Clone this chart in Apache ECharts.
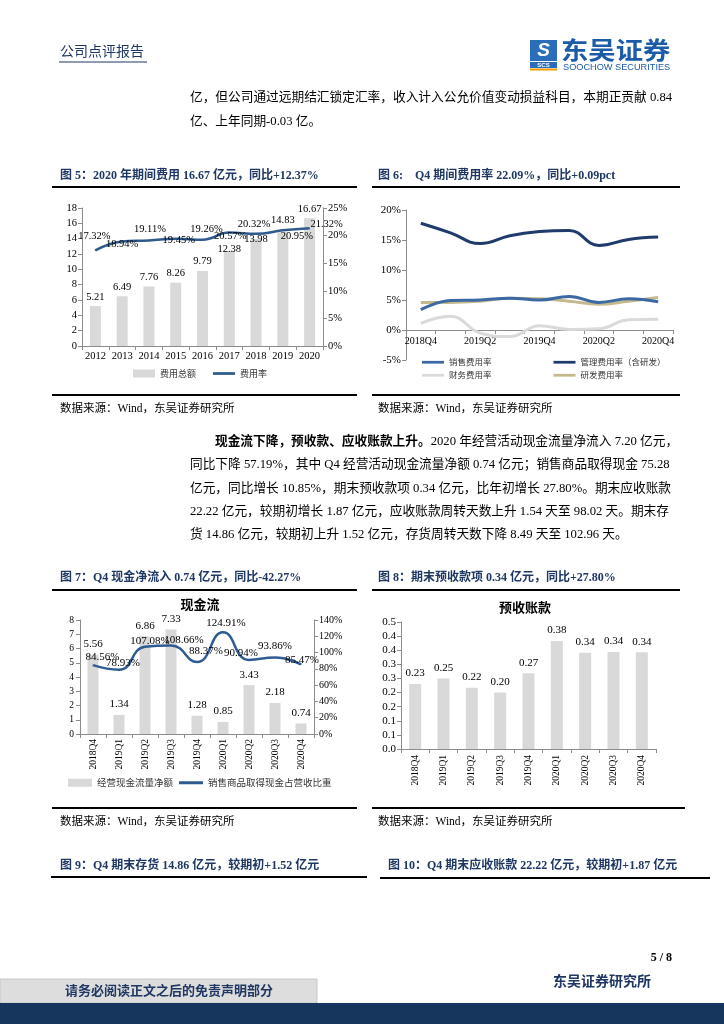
<!DOCTYPE html>
<html><head><meta charset="utf-8">
<script src="https://cdn.jsdelivr.net/npm/echarts@6/dist/echarts.min.js"></script>
<style>html,body{margin:0;padding:0;background:#fff}#c{width:724px;height:1024px}</style>
</head><body><div id="c"></div>
<script>
// ---------- data ----------
const fig5Years = ['2012','2013','2014','2015','2016','2017','2018','2019','2020'];
const fig5Expense = [5.21, 6.49, 7.76, 8.26, 9.79, 12.38, 13.98, 14.83, 16.67];
const fig5Rate = [17.32, 18.94, 19.11, 19.45, 19.26, 20.57, 20.32, 20.95, 21.32];

const quarters = ['2018Q4','2019Q1','2019Q2','2019Q3','2019Q4','2020Q1','2020Q2','2020Q3','2020Q4'];
const fig6Sales   = [3.4, 4.9, 5.0, 5.3, 5.0, 5.6, 4.6, 5.2, 4.7];
const fig6Admin   = [17.8, 16.2, 14.4, 15.7, 16.4, 16.6, 14.1, 15.1, 15.5];
const fig6Finance = [1.1, 2.3, -0.5, -1.1, 0.7, 0.1, 0.2, 1.7, 1.8];
const fig6RD      = [4.6, 4.6, 4.8, 5.3, 5.2, 4.8, 4.3, 4.8, 5.4];

const fig7Cash  = [5.56, 1.34, 6.86, 7.33, 1.28, 0.85, 3.43, 2.18, 0.74];
const fig7Ratio = [84.56, 78.93, 107.08, 108.66, 88.37, 124.91, 90.94, 93.86, 85.47];

const fig8Advance = [0.23, 0.25, 0.217, 0.20, 0.268, 0.383, 0.341, 0.344, 0.343];
const fig8YTicks = ['0.0','0.1','0.1','0.2','0.2','0.3','0.3','0.4','0.4','0.5'];

// ---------- label placement (styling, not data) ----------
const fig5BarLabelOffset = [[0,0],[0,0],[0,0],[0,0],[0,0],[0,7.5],[0,10],[0,-3],[0,0]];
const fig5RateLabelOffset = [[-1,-14],[0,2.5],[1,-11],[3,1.5],[4,-10.5],[1,3.5],[-2,-10],[14,6],[17,-4]];
const fig7RatioLabelOffset = [[9.5,-8],[4,-7],[5,-6],[13,-5],[9,-11],[3,-9],[-8,-7],[0,-11.6],[1,-4]];

const SERIF = "'Liberation Serif','Noto Sans CJK SC',serif";
const CJK = "'Noto Sans CJK SC','Liberation Serif',sans-serif";
const NAVY = '#1F3763';
const AX = '#8C8C8C';

const chart = echarts.init(document.getElementById('c'), null, {renderer: 'canvas', width: 724, height: 1024});

// ---------- page graphics ----------
const G = [];
function T(x, y, text, font, fill, align, extra) {
  const st = {text: text, font: font, fill: fill || '#000', textAlign: align || 'left', textVerticalAlign: 'middle', align: align || 'left', verticalAlign: 'middle'};
  const el = {type: 'text', x: x, y: y, silent: true, z: 100, style: st};
  if (extra && extra.rich) st.rich = extra.rich;
  if (extra && extra.scaleX) el.scaleX = extra.scaleX;
  G.push(el);
}
function L(x1, y1, x2, y2, c, w) { G.push({type: 'line', silent: true, z: 100, shape: {x1, y1, x2, y2}, style: {stroke: c, lineWidth: w}}); }
function R(x, y, w, h, fill, stroke) { G.push({type: 'rect', silent: true, z: 90, shape: {x, y, width: w, height: h}, style: {fill: fill, stroke: stroke || null, lineWidth: stroke ? 1 : 0}}); }

const BODY = "12.7px " + SERIF;
const TITLE = "bold 12px " + SERIF;
const SRC = "11.5px " + SERIF;

// header
T(60, 52, '公司点评报告', "14px " + SERIF, NAVY);
L(59, 62, 147, 62, NAVY, 1);
// logo
R(530, 40, 27, 21, '#2A6EBB');
T(543.5, 51, 'S', "bold italic 19px 'Liberation Sans',sans-serif", '#fff', 'center');
R(530, 62, 27, 6, '#2A6EBB');
T(543.5, 65, 'SCS', "bold 6px 'Liberation Sans',sans-serif", '#fff', 'center');
R(530, 68.5, 27, 2, '#F39800');
T(561, 50, '东吴证券', "bold 24px " + CJK, '#1C5BA8', 'left', {scaleX: 1.14});
T(563, 67, 'SOOCHOW SECURITIES', "9.2px 'Liberation Sans',sans-serif", '#1C5BA8');

// paragraph 1
T(190, 98, '亿，但公司通过远期结汇锁定汇率，收入计入公允价值变动损益科目，本期正贡献 0.84', BODY);
T(190, 122, '亿、上年同期-0.03 亿。', BODY);

// figure 5 / 6 frames
T(60, 176, '图 5：2020 年期间费用 16.67 亿元，同比+12.37%', TITLE, NAVY);
T(378, 176, '图 6:    Q4 期间费用率 22.09%，同比+0.09pct', TITLE, NAVY);
L(52, 187, 357, 187, '#000', 2);
L(372, 187, 680, 187, '#000', 2);
L(52, 395, 357, 395, '#000', 2);
L(372, 395, 680, 395, '#000', 2);
T(60, 409, '数据来源：Wind，东吴证券研究所', SRC);
T(378, 409, '数据来源：Wind，东吴证券研究所', SRC);

// paragraph 2
T(215, 442, '{b|现金流下降，预收款、应收账款上升。}2020 年经营活动现金流量净流入 7.20 亿元，', BODY, '#000', 'left',
  {rich: {b: {fontWeight: 'bold', fontSize: 12.7, fontFamily: SERIF}}});
T(190, 465, '同比下降 57.19%，其中 Q4 经营活动现金流量净额 0.74 亿元；销售商品取得现金 75.28', BODY);
T(190, 489, '亿元，同比增长 10.85%，期末预收款项 0.34 亿元，比年初增长 27.80%。期末应收账款', BODY);
T(190, 512, '22.22 亿元，较期初增长 1.87 亿元，应收账款周转天数上升 1.54 天至 98.02 天。期末存', BODY);
T(190, 535, '货 14.86 亿元，较期初上升 1.52 亿元，存货周转天数下降 8.49 天至 102.96 天。', BODY);

// figure 7 / 8 frames
T(60, 578, '图 7：Q4 现金净流入 0.74 亿元，同比-42.27%', TITLE, NAVY);
T(378, 578, '图 8：期末预收款项 0.34 亿元，同比+27.80%', TITLE, NAVY);
L(52, 590, 357, 590, '#000', 2);
L(372, 590, 680, 590, '#000', 2);
L(52, 808, 357, 808, '#000', 2);
L(372, 808, 685, 808, '#000', 2);
T(60, 822, '数据来源：Wind，东吴证券研究所', SRC);
T(378, 822, '数据来源：Wind，东吴证券研究所', SRC);

// figure 9 / 10 titles
T(60, 866, '图 9：Q4 期末存货 14.86 亿元，较期初+1.52 亿元', TITLE, NAVY);
T(388, 866, '图 10：Q4 期末应收账款 22.22 亿元，较期初+1.87 亿元', TITLE, NAVY);
L(51, 877, 367, 877, '#000', 2);
L(380, 878, 710, 878, '#000', 2);

// footer
T(672, 958, '5 / 8', "bold 12px " + SERIF, '#000', 'right');
T(553, 982, '东吴证券研究所', "bold 14px " + SERIF, NAVY);
R(0, 979, 317, 24, '#DDDDDD', '#C8C8C8');
T(65, 992, '请务必阅读正文之后的免责声明部分', "bold 13px " + SERIF, NAVY);
R(0, 1003, 724, 21, '#17365D');

// ---------- chart components ----------
function catAxis(grid, data, extra) {
  return Object.assign({
    type: 'category', gridIndex: grid, data: data,
    axisLine: {lineStyle: {color: AX}}, axisTick: {show: true, length: 4, lineStyle: {color: AX}},
    axisLabel: {color: '#000', fontFamily: SERIF, fontSize: 10.5, margin: 5, interval: 0}
  }, extra || {});
}
function valAxis(grid, extra) {
  return Object.assign({
    type: 'value', gridIndex: grid,
    axisLine: {show: true, lineStyle: {color: AX}}, axisTick: {show: true, length: 4, lineStyle: {color: AX}},
    splitLine: {show: false},
    axisLabel: {color: '#000', fontFamily: SERIF, fontSize: 10.5, margin: 5}
  }, extra || {});
}
const LINE_ICON = 'path://M0,0L24,0L24,3L0,3Z';

const option = {
  animation: false,
  backgroundColor: '#fff',
  textStyle: {fontFamily: SERIF},
  grid: [
    {left: 82, top: 208, width: 241, height: 138},
    {left: 406, top: 210, width: 267, height: 150},
    {left: 80, top: 620, width: 234, height: 114},
    {left: 401, top: 622, width: 255, height: 127}
  ],
  title: [
    {text: '现金流', left: 200, top: 598, textAlign: 'center', padding: 0,
     textStyle: {fontFamily: CJK, fontSize: 13, fontWeight: 'bold', color: '#000'}},
    {text: '预收账款', left: 525, top: 601, textAlign: 'center', padding: 0,
     textStyle: {fontFamily: CJK, fontSize: 13, fontWeight: 'bold', color: '#000'}}
  ],
  legend: [
    {left: 133, top: 369, padding: 0, itemWidth: 22, itemHeight: 8, itemGap: 17,
     textStyle: {fontFamily: CJK, fontSize: 9, color: '#333'},
     data: [{name: '费用总额', icon: 'rect'}, {name: '费用率', icon: LINE_ICON}]},
    {left: 422, top: 358, padding: 0, itemWidth: 22, itemHeight: 8, itemGap: 62,
     textStyle: {fontFamily: CJK, fontSize: 8.5, color: '#333'},
     data: [{name: '销售费用率', icon: LINE_ICON}, {name: '管理费用率（含研发）', icon: LINE_ICON}]},
    {left: 422, top: 371, padding: 0, itemWidth: 22, itemHeight: 8, itemGap: 62,
     textStyle: {fontFamily: CJK, fontSize: 8.5, color: '#333'},
     data: [{name: '财务费用率', icon: LINE_ICON}, {name: '研发费用率', icon: LINE_ICON}]},
    {left: 68, top: 778, padding: 0, itemWidth: 24, itemHeight: 8, itemGap: 6,
     textStyle: {fontFamily: CJK, fontSize: 9.5, color: '#333'},
     data: [{name: '经营现金流量净额', icon: 'rect'}, {name: '销售商品取得现金占营收比重', icon: LINE_ICON}]}
  ],
  xAxis: [
    catAxis(0, fig5Years),
    catAxis(1, quarters, {position: 'bottom', offset: -30,
                          axisLine: {onZero: false, lineStyle: {color: AX}},
                          axisLabel: {color: '#000', fontFamily: SERIF, fontSize: 10, margin: 6, interval: 1},
                          axisTick: {show: true, length: 4, interval: 0, lineStyle: {color: AX}}}),
    catAxis(2, quarters, {axisLabel: {color: '#000', fontFamily: SERIF, fontSize: 9.5, margin: 5, rotate: 90, interval: 0}}),
    catAxis(3, quarters, {axisLabel: {color: '#000', fontFamily: SERIF, fontSize: 9.5, margin: 6, rotate: 90, interval: 0}})
  ],
  yAxis: [
    valAxis(0, {min: 0, max: 18, interval: 2}),
    valAxis(0, {min: 0, max: 25, interval: 5, position: 'right',
                axisLabel: {color: '#000', fontFamily: SERIF, fontSize: 10.5, margin: 5, formatter: '{value}%'}}),
    valAxis(1, {min: -5, max: 20, interval: 5,
                axisLabel: {color: '#000', fontFamily: SERIF, fontSize: 11, margin: 5, formatter: '{value}%'}}),
    valAxis(2, {min: 0, max: 8, interval: 1, axisLabel: {color: '#000', fontFamily: SERIF, fontSize: 9.5, margin: 6}}),
    valAxis(2, {min: 0, max: 140, interval: 20, position: 'right',
                axisLabel: {color: '#000', fontFamily: SERIF, fontSize: 10, margin: 5, formatter: '{value}%'}}),
    valAxis(3, {min: 0, max: 0.45, interval: 0.05,
                axisLabel: {color: '#000', fontFamily: SERIF, fontSize: 11, margin: 5,
                  formatter: function (v, i) { return fig8YTicks[i] !== undefined ? fig8YTicks[i] : (Math.round(v * 10 + 1e-9) / 10).toFixed(1); }}})
  ],
  series: [
    {name: '费用总额', type: 'bar', xAxisIndex: 0, yAxisIndex: 0, barWidth: 11,
     itemStyle: {color: '#D9D9D9'},
     label: {show: true, position: 'top', distance: 4, color: '#000', fontFamily: SERIF, fontSize: 10.5},
     data: fig5Expense.map((v, i) => ({value: v, label: {offset: fig5BarLabelOffset[i]}}))},
    {name: '费用率', type: 'line', xAxisIndex: 0, yAxisIndex: 1, smooth: 0.45,
     symbol: 'circle', symbolSize: 1, color: '#2E5A8E',
     lineStyle: {width: 2.5, color: '#2E5A8E'}, itemStyle: {color: '#2E5A8E'},
     label: {show: true, position: 'inside', color: '#000', fontFamily: SERIF, fontSize: 10.5,
             formatter: p => p.value.toFixed(2) + '%'},
     data: fig5Rate.map((v, i) => ({value: v, label: {offset: fig5RateLabelOffset[i]}})), z: 5},

    {name: '管理费用率（含研发）', type: 'line', xAxisIndex: 1, yAxisIndex: 2, smooth: 0.45, symbol: 'none',
     color: '#1F3B6C', lineStyle: {width: 3, color: '#1F3B6C'}, itemStyle: {color: '#1F3B6C'}, data: fig6Admin},
    {name: '财务费用率', type: 'line', xAxisIndex: 1, yAxisIndex: 2, smooth: 0.45, symbol: 'none',
     color: '#DADADA', lineStyle: {width: 3, color: '#DADADA'}, itemStyle: {color: '#DADADA'}, data: fig6Finance},
    {name: '研发费用率', type: 'line', xAxisIndex: 1, yAxisIndex: 2, smooth: 0.45, symbol: 'none',
     color: '#C4B98D', lineStyle: {width: 3, color: '#C4B98D'}, itemStyle: {color: '#C4B98D'}, data: fig6RD},
    {name: '销售费用率', type: 'line', xAxisIndex: 1, yAxisIndex: 2, smooth: 0.45, symbol: 'none',
     color: '#3C69A3', lineStyle: {width: 3, color: '#3C69A3'}, itemStyle: {color: '#3C69A3'}, data: fig6Sales},

    {name: '经营现金流量净额', type: 'bar', xAxisIndex: 2, yAxisIndex: 3, barWidth: 11,
     itemStyle: {color: '#D9D9D9'},
     label: {show: true, position: 'top', distance: 5, color: '#000', fontFamily: SERIF, fontSize: 11},
     data: fig7Cash},
    {name: '销售商品取得现金占营收比重', type: 'line', xAxisIndex: 2, yAxisIndex: 4, smooth: 0.5,
     symbol: 'circle', symbolSize: 1, color: '#2F5B93',
     lineStyle: {width: 2.5, color: '#2F5B93'}, itemStyle: {color: '#2F5B93'},
     label: {show: true, position: 'inside', color: '#000', fontFamily: SERIF, fontSize: 11,
             formatter: p => p.value.toFixed(2) + '%'},
     data: fig7Ratio.map((v, i) => ({value: v, label: {offset: fig7RatioLabelOffset[i]}})), z: 5},

    {name: '预收账款', type: 'bar', xAxisIndex: 3, yAxisIndex: 5, barWidth: 12,
     itemStyle: {color: '#D9D9D9'},
     label: {show: true, position: 'top', distance: 5, color: '#000', fontFamily: SERIF, fontSize: 11,
             formatter: p => p.value.toFixed(2)},
     data: fig8Advance}
  ],
  graphic: G
};
chart.setOption(option);
</script>
</body></html>
